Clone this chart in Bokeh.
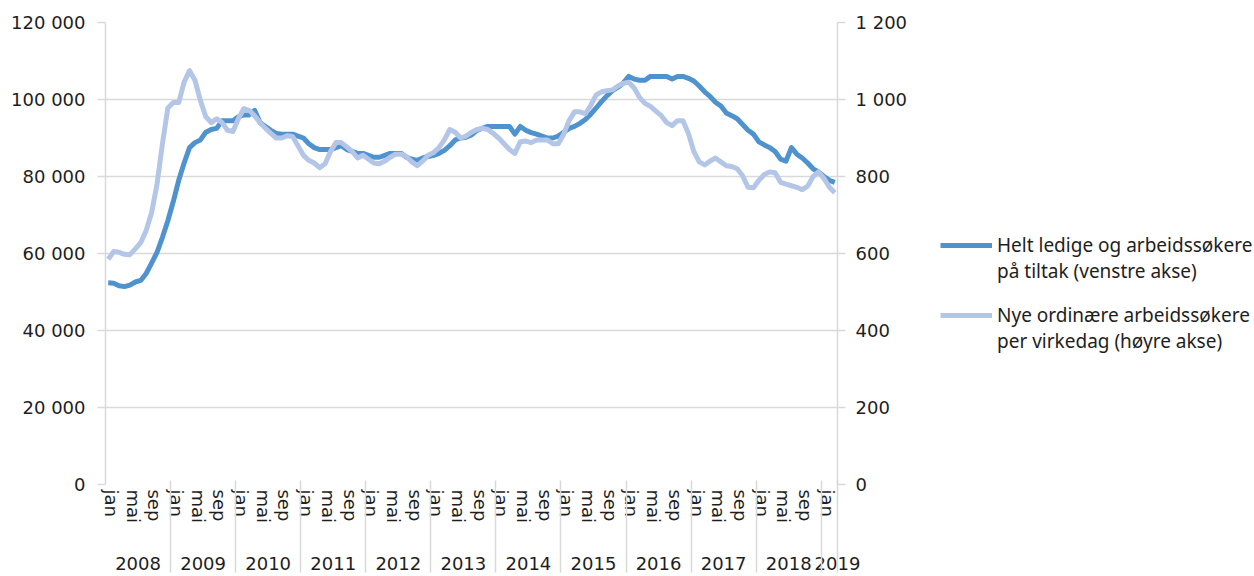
from bokeh.plotting import figure
from bokeh.layouts import row
from bokeh.models import (LinearAxis, Range1d, FixedTicker, Legend, LegendItem,
                          Grid, CustomJSTickFormatter, ColumnDataSource)
from bokeh.embed import file_html
from bokeh.resources import INLINE

# ---------------- data ----------------
years = [str(y) for y in range(2008, 2020)]
month_names = ["jan", "feb", "mar", "apr", "mai", "jun", "jul", "aug", "sep", "okt", "nov", "des"]
shown_months = ["jan", "mai", "sep"]

# Helt ledige og arbeidssøkere på tiltak (venstre akse), jan 2008 - mar 2019
helt_ledige = [
    52400, 52300, 51600, 51400, 51800, 52600, 53000, 54800, 57500, 60300, 64200, 68500,   # 2008
    73500, 79000, 83500, 87500, 88800, 89500, 91500, 92200, 92500, 94500, 94500, 94500,   # 2009
    95500, 96000, 96000, 97200, 94000, 93000, 92000, 91200, 91000, 91000, 91000, 90500,   # 2010
    90000, 88500, 87500, 87000, 87000, 87000, 87500, 88000, 87000, 86500, 86000, 86000,   # 2011
    85500, 85000, 85000, 85500, 86000, 86000, 86000, 85000, 84500, 84200, 84800, 85200,   # 2012
    85500, 86000, 86800, 88000, 89500, 90000, 90200, 90800, 92000, 92500, 93000, 93000,   # 2013
    93000, 93000, 93000, 91000, 93000, 92000, 91400, 91000, 90500, 90000, 90000, 90500,   # 2014
    91500, 92500, 93000, 93800, 94800, 96200, 97800, 99500, 101000, 102300, 103200, 104300,  # 2015
    106000, 105300, 105000, 105000, 106000, 106000, 106000, 106000, 105300, 106000, 106000, 105500,  # 2016
    104800, 103500, 102000, 100800, 99300, 98300, 96500, 95800, 95000, 93500, 92000, 91000,  # 2017
    89000, 88200, 87500, 86500, 84500, 84000, 87500, 85800, 84800, 83500, 82000, 81200,   # 2018
    80000, 79000, 78500,                                                                  # 2019
]

# Nye ordinære arbeidssøkere per virkedag (høyre akse)
nye_per_virkedag = [
    585, 605, 603, 598, 597, 612, 628, 660, 706, 780, 885, 978,        # 2008
    992, 992, 1045, 1075, 1050, 997, 955, 940, 950, 940, 920, 917,     # 2009
    950, 976, 972, 958, 940, 925, 912, 900, 900, 906, 904, 880,        # 2010
    855, 842, 835, 823, 833, 865, 888, 888, 877, 865, 848, 855,        # 2011
    845, 835, 833, 840, 850, 858, 858, 852, 838, 828, 840, 855,        # 2012
    862, 875, 895, 922, 915, 900, 905, 915, 922, 925, 922, 912,        # 2013
    900, 885, 870, 860, 890, 892, 888, 895, 895, 895, 885, 885,        # 2014
    910, 945, 968, 968, 963, 985, 1012, 1020, 1023, 1025, 1035, 1042,  # 2015
    1045, 1030, 1005, 990, 982, 970, 958, 940, 932, 945, 945, 912,     # 2016
    865, 838, 830, 840, 848, 838, 828, 826, 820, 802, 772, 771,        # 2017
    790, 805, 812, 810, 785, 780, 776, 772, 766, 775, 800, 812,        # 2018
    795, 772, 758,                                                     # 2019
]

left_ticks = [0, 20000, 40000, 60000, 80000, 100000, 120000]
right_ticks = [0, 200, 400, 600, 800, 1000, 1200]

legend_labels = ["Helt ledige og arbeidssøkere\npå tiltak (venstre akse)",
                 "Nye ordinære arbeidssøkere\nper virkedag (høyre akse)"]

# ---------------- derived positions ----------------
n = len(helt_ledige)
xs = [i + 0.5 for i in range(n)]
MONTH_SHIFT = 0.6   # rotated month labels sit slightly right of the category centre
month_tick_pos = [i + 0.5 + MONTH_SHIFT for i in range(n) if month_names[i % 12] in shown_months]
n_years = (n + 11) // 12
year_tick_pos = [12 * k + 6 if 12 * k + 12 <= n else n - 0.01 for k in range(n_years)]
year_bounds = [min(12 * k, n) for k in range(1, n_years + 1)]

src = ColumnDataSource(dict(x=xs, a=helt_ledige, b=nye_per_virkedag))

DARK = "#4F93CE"
LIGHT = "#B4C6E7"
GRID = "#D9D9D9"
TXT = "#1E1E1E"

W_MAIN = 910

p = figure(width=W_MAIN, height=576, output_backend="svg", toolbar_location=None,
           x_range=Range1d(0, n), y_range=Range1d(0, 120000),
           x_axis_location=None, y_axis_location=None,
           min_border_left=105, min_border_right=W_MAIN - 837, min_border_top=22,
           min_border_bottom=92)
p.outline_line_color = None
p.background_fill_color = "white"
p.xgrid.visible = False
p.ygrid.visible = False
p.extra_y_ranges = {"right": Range1d(0, 1200)}

thousands = CustomJSTickFormatter(code="""
    return Math.round(tick).toString().replace(/\\B(?=(\\d{3})+(?!\\d))/g, ' ');
""")

p.add_layout(Grid(dimension=1, ticker=FixedTicker(ticks=left_ticks),
                  grid_line_color=GRID, grid_line_width=1.5))

# left axis
ly = LinearAxis(ticker=FixedTicker(ticks=left_ticks), formatter=thousands, bounds=(0, 120000))
ly.axis_line_color = GRID
ly.axis_line_width = 1.5
ly.major_tick_line_color = GRID
ly.major_tick_line_width = 1.5
ly.major_tick_out = 8
ly.major_tick_in = 0
ly.minor_tick_line_color = None
ly.major_label_standoff = 12
ly.major_label_text_font = "DejaVu Sans"
ly.major_label_text_font_size = "18px"
ly.major_label_text_color = TXT
p.add_layout(ly, "left")

# right axis
ry = LinearAxis(y_range_name="right", ticker=FixedTicker(ticks=right_ticks),
                formatter=thousands, bounds=(0, 1200))
ry.axis_line_color = GRID
ry.axis_line_width = 1.5
ry.major_tick_line_color = GRID
ry.major_tick_line_width = 1.5
ry.major_tick_out = 8
ry.major_tick_in = 0
ry.minor_tick_line_color = None
ry.major_label_standoff = 10
ry.major_label_text_font = "DejaVu Sans"
ry.major_label_text_font_size = "18px"
ry.major_label_text_color = TXT
ry.major_label_text_align = "left"
p.add_layout(ry, "right")

# month axis
mx = LinearAxis(ticker=FixedTicker(ticks=month_tick_pos),
                formatter=CustomJSTickFormatter(args=dict(names=month_names, shift=MONTH_SHIFT),
                                                code="return names[Math.floor(tick - shift) % 12];"))
mx.axis_line_color = None
mx.major_tick_line_color = None
mx.major_tick_out = 0
mx.major_tick_in = 0
mx.minor_tick_line_color = None
mx.major_label_orientation = "vertical"
mx.major_label_standoff = 5
mx.major_label_text_font = "DejaVu Sans"
mx.major_label_text_font_size = "18px"
mx.major_label_text_color = TXT
p.add_layout(mx, "below")

# year axis
yx = LinearAxis(ticker=FixedTicker(ticks=year_tick_pos),
                formatter=CustomJSTickFormatter(args=dict(years=years),
                                                code="return years[Math.floor(tick / 12)];"))
yx.axis_line_color = None
yx.major_tick_line_color = None
yx.major_tick_out = 0
yx.major_tick_in = 0
yx.minor_tick_line_color = None
yx.major_label_standoff = 30
yx.major_label_text_font = "DejaVu Sans"
yx.major_label_text_font_size = "18px"
yx.major_label_text_color = TXT
p.add_layout(yx, "below")

# year separators: minor ticks pointing up from an empty outermost axis
sx = LinearAxis(ticker=FixedTicker(ticks=[], minor_ticks=year_bounds),
                formatter=CustomJSTickFormatter(code="return '';"))
sx.axis_line_color = None
sx.major_tick_line_color = None
sx.major_tick_out = 0
sx.major_tick_in = 0
sx.major_label_standoff = 0
sx.minor_tick_line_color = GRID
sx.minor_tick_line_width = 1.5
sx.minor_tick_in = 92
sx.minor_tick_out = 0
p.add_layout(sx, "below")

p.line("x", "a", source=src, line_color=DARK, line_width=5, line_join="round")
p.line("x", "b", source=src, y_range_name="right", line_color=LIGHT, line_width=5,
       line_join="round")

# ---------------- legend panel (same series, kept out of view) ----------------
q = figure(width=1254 - W_MAIN, height=576, output_backend="svg", toolbar_location=None,
           x_range=Range1d(-20, -19), y_range=Range1d(0, 1),
           x_axis_location=None, y_axis_location=None, min_border=0)
q.outline_line_color = None
q.xgrid.visible = False
q.ygrid.visible = False
l1 = q.line("x", "a", source=src, line_color=DARK, line_width=5)
l2 = q.line("x", "b", source=src, line_color=LIGHT, line_width=5)


def make_legend(label, renderer, y):
    # a leading blank line puts the legend line level with the first text line
    lg = Legend(items=[LegendItem(label=" \n" + label, renderers=[renderer])],
                location=(940 - W_MAIN, y))
    lg.glyph_width = 52
    lg.glyph_height = 20
    lg.label_standoff = 5
    lg.spacing = 0
    lg.padding = 0
    lg.margin = 0
    lg.border_line_color = None
    lg.background_fill_alpha = 0
    lg.label_text_font = "Noto Sans"
    lg.label_text_font_size = "19px"
    lg.label_text_color = TXT
    lg.label_text_line_height = 1.2
    return lg


q.add_layout(make_legend(legend_labels[0], l1, 200), "center")
q.add_layout(make_legend(legend_labels[1], l2, 130), "center")

open("out.html", "w").write(file_html(row(p, q, spacing=0), INLINE))
